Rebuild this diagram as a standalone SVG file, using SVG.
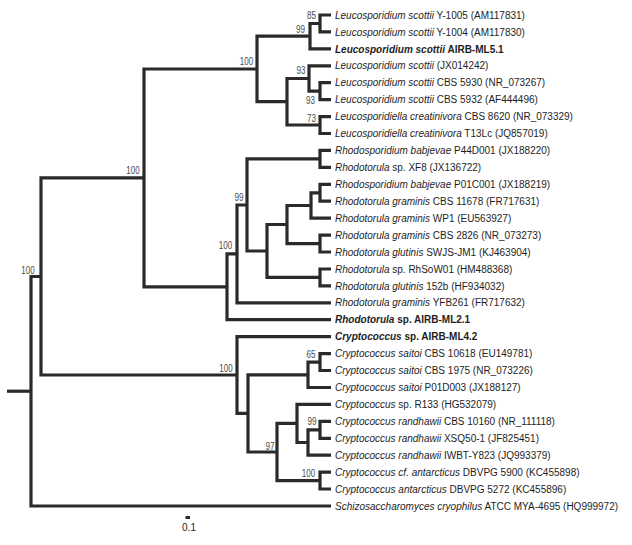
<svg xmlns="http://www.w3.org/2000/svg" width="632" height="545" viewBox="0 0 632 545">
<style>
.br{fill:none;stroke:#2a2a2a;stroke-width:3.2;stroke-linejoin:miter;stroke-linecap:butt}
.tip{font-family:"Liberation Sans",Arial,sans-serif;font-size:10px;fill:#1e1e1e}
.b{font-weight:bold}
.bs{font-family:"Liberation Sans",Arial,sans-serif;font-size:10px;fill:#4a4a4a;text-anchor:middle}
</style>
<rect width="632" height="545" fill="#ffffff"/>
<g id="branches" class="br">
<path d="M331 15 H320 V31.9 H331"/>
<path d="M320 23.5 H310 V48.9 H331"/>
<path d="M331 82.7 H320 V99.7 H331"/>
<path d="M331 65.8 H309 V91.2 H320"/>
<path d="M331 116.6 H320 V133.5 H331"/>
<path d="M309 78.5 H287 V125 H320"/>
<path d="M310 36.2 H257 V101.7 H287"/>
<path d="M331 150.4 H320 V167.4 H331"/>
<path d="M331 184.3 H320 V201.2 H331"/>
<path d="M320 192.8 H311 V218.2 H331"/>
<path d="M331 235.1 H320 V252 H331"/>
<path d="M311 205.5 H287 V243.6 H320"/>
<path d="M331 269 H320 V285.9 H331"/>
<path d="M287 224.5 H267 V277.4 H320"/>
<path d="M320 158.9 H247 V251 H267"/>
<path d="M247 205 H237 V302.8 H331"/>
<path d="M237 253.9 H227 V319.7 H331"/>
<path d="M257 69 H144 V286.8 H227"/>
<path d="M331 353.6 H320 V370.5 H331"/>
<path d="M320 362.1 H308 V387.5 H331"/>
<path d="M331 421.3 H320 V438.3 H331"/>
<path d="M320 429.8 H308 V455.2 H331"/>
<path d="M331 404.4 H297 V442.5 H308"/>
<path d="M331 472.1 H320 V489 H331"/>
<path d="M297 423.4 H277 V480.6 H320"/>
<path d="M308 374.8 H248 V452 H277"/>
<path d="M331 336.7 H237 V413.4 H248"/>
<path d="M144 177.9 H41 V375 H237"/>
<path d="M41 276.5 H31 V506 H331"/>
<path d="M7 391.2 H31"/>
</g>
<g id="bootstrap">
<text class="bs" x="311.5" y="19" textLength="9" lengthAdjust="spacingAndGlyphs">85</text>
<text class="bs" x="300.5" y="33" textLength="9" lengthAdjust="spacingAndGlyphs">99</text>
<text class="bs" x="246.5" y="65" textLength="13.3" lengthAdjust="spacingAndGlyphs">100</text>
<text class="bs" x="301" y="73.5" textLength="9" lengthAdjust="spacingAndGlyphs">93</text>
<text class="bs" x="310.5" y="103.5" textLength="9" lengthAdjust="spacingAndGlyphs">93</text>
<text class="bs" x="311.5" y="121.5" textLength="9" lengthAdjust="spacingAndGlyphs">73</text>
<text class="bs" x="133" y="173.5" textLength="13.3" lengthAdjust="spacingAndGlyphs">100</text>
<text class="bs" x="239" y="200.5" textLength="9" lengthAdjust="spacingAndGlyphs">99</text>
<text class="bs" x="225.5" y="249" textLength="13.3" lengthAdjust="spacingAndGlyphs">100</text>
<text class="bs" x="28" y="273.5" textLength="13.3" lengthAdjust="spacingAndGlyphs">100</text>
<text class="bs" x="226" y="372" textLength="13.3" lengthAdjust="spacingAndGlyphs">100</text>
<text class="bs" x="311" y="358" textLength="9" lengthAdjust="spacingAndGlyphs">65</text>
<text class="bs" x="312" y="425" textLength="9" lengthAdjust="spacingAndGlyphs">99</text>
<text class="bs" x="270" y="449.5" textLength="9" lengthAdjust="spacingAndGlyphs">97</text>
<text class="bs" x="308.5" y="476.5" textLength="13.3" lengthAdjust="spacingAndGlyphs">100</text>
</g>
<g id="tip1"><text class="tip" x="335" y="18.6"><tspan font-style="italic">Leucosporidium scottii</tspan> Y-1005 (AM117831)</text></g>
<g id="tip2"><text class="tip" x="335" y="35.5"><tspan font-style="italic">Leucosporidium scottii</tspan> Y-1004 (AM117830)</text></g>
<g id="tip3"><text class="tip b" x="335" y="52.5"><tspan font-style="italic">Leucosporidium scottii</tspan> AIRB-ML5.1</text></g>
<g id="tip4"><text class="tip" x="335" y="69.4"><tspan font-style="italic">Leucosporidium scottii</tspan> (JX014242)</text></g>
<g id="tip5"><text class="tip" x="335" y="86.3"><tspan font-style="italic">Leucosporidium scottii</tspan> CBS 5930 (NR_073267)</text></g>
<g id="tip6"><text class="tip" x="335" y="103.3"><tspan font-style="italic">Leucosporidium scottii</tspan> CBS 5932 (AF444496)</text></g>
<g id="tip7"><text class="tip" x="335" y="120.2"><tspan font-style="italic">Leucosporidiella creatinivora</tspan> CBS 8620 (NR_073329)</text></g>
<g id="tip8"><text class="tip" x="335" y="137.1"><tspan font-style="italic">Leucosporidiella creatinivora</tspan> T13Lc (JQ857019)</text></g>
<g id="tip9"><text class="tip" x="335" y="154"><tspan font-style="italic">Rhodosporidium babjevae</tspan> P44D001 (JX188220)</text></g>
<g id="tip10"><text class="tip" x="335" y="171"><tspan font-style="italic">Rhodotorula</tspan> sp. XF8 (JX136722)</text></g>
<g id="tip11"><text class="tip" x="335" y="187.9"><tspan font-style="italic">Rhodosporidium babjevae</tspan> P01C001 (JX188219)</text></g>
<g id="tip12"><text class="tip" x="335" y="204.8"><tspan font-style="italic">Rhodotorula graminis</tspan> CBS 11678 (FR717631)</text></g>
<g id="tip13"><text class="tip" x="335" y="221.8"><tspan font-style="italic">Rhodotorula graminis</tspan> WP1 (EU563927)</text></g>
<g id="tip14"><text class="tip" x="335" y="238.7"><tspan font-style="italic">Rhodotorula graminis</tspan> CBS 2826 (NR_073273)</text></g>
<g id="tip15"><text class="tip" x="335" y="255.6"><tspan font-style="italic">Rhodotorula glutinis</tspan> SWJS-JM1 (KJ463904)</text></g>
<g id="tip16"><text class="tip" x="335" y="272.6"><tspan font-style="italic">Rhodotorula</tspan> sp. RhSoW01 (HM488368)</text></g>
<g id="tip17"><text class="tip" x="335" y="289.5"><tspan font-style="italic">Rhodotorula glutinis</tspan> 152b (HF934032)</text></g>
<g id="tip18"><text class="tip" x="335" y="306.4"><tspan font-style="italic">Rhodotorula graminis</tspan> YFB261 (FR717632)</text></g>
<g id="tip19"><text class="tip b" x="335" y="323.3"><tspan font-style="italic">Rhodotorula</tspan> sp. AIRB-ML2.1</text></g>
<g id="tip20"><text class="tip b" x="335" y="340.3"><tspan font-style="italic">Cryptococcus</tspan> sp. AIRB-ML4.2</text></g>
<g id="tip21"><text class="tip" x="335" y="357.2"><tspan font-style="italic">Cryptococcus saitoi</tspan> CBS 10618 (EU149781)</text></g>
<g id="tip22"><text class="tip" x="335" y="374.1"><tspan font-style="italic">Cryptococcus saitoi</tspan> CBS 1975 (NR_073226)</text></g>
<g id="tip23"><text class="tip" x="335" y="391.1"><tspan font-style="italic">Cryptococcus saitoi</tspan> P01D003 (JX188127)</text></g>
<g id="tip24"><text class="tip" x="335" y="408"><tspan font-style="italic">Cryptococcus</tspan> sp. R133 (HG532079)</text></g>
<g id="tip25"><text class="tip" x="335" y="424.9"><tspan font-style="italic">Cryptococcus randhawii</tspan> CBS 10160 (NR_111118)</text></g>
<g id="tip26"><text class="tip" x="335" y="441.9"><tspan font-style="italic">Cryptococcus randhawii</tspan> XSQ50-1 (JF825451)</text></g>
<g id="tip27"><text class="tip" x="335" y="458.8"><tspan font-style="italic">Cryptococcus randhawii</tspan> IWBT-Y823 (JQ993379)</text></g>
<g id="tip28"><text class="tip" x="335" y="475.7"><tspan font-style="italic">Cryptococcus cf. antarcticus</tspan> DBVPG 5900 (KC455898)</text></g>
<g id="tip29"><text class="tip" x="335" y="492.6"><tspan font-style="italic">Cryptococcus antarcticus</tspan> DBVPG 5272 (KC455896)</text></g>
<g id="tip30"><text class="tip" x="335" y="509.6"><tspan font-style="italic">Schizosaccharomyces cryophilus</tspan> ATCC MYA-4695 (HQ999972)</text></g>
<g id="scalebar">
<line x1="185.5" y1="517.5" x2="190" y2="517.5" stroke="#2a2a2a" stroke-width="3"/>
<text class="tip" x="189" y="531" text-anchor="middle" fill="#333">0.1</text>
</g>
</svg>
